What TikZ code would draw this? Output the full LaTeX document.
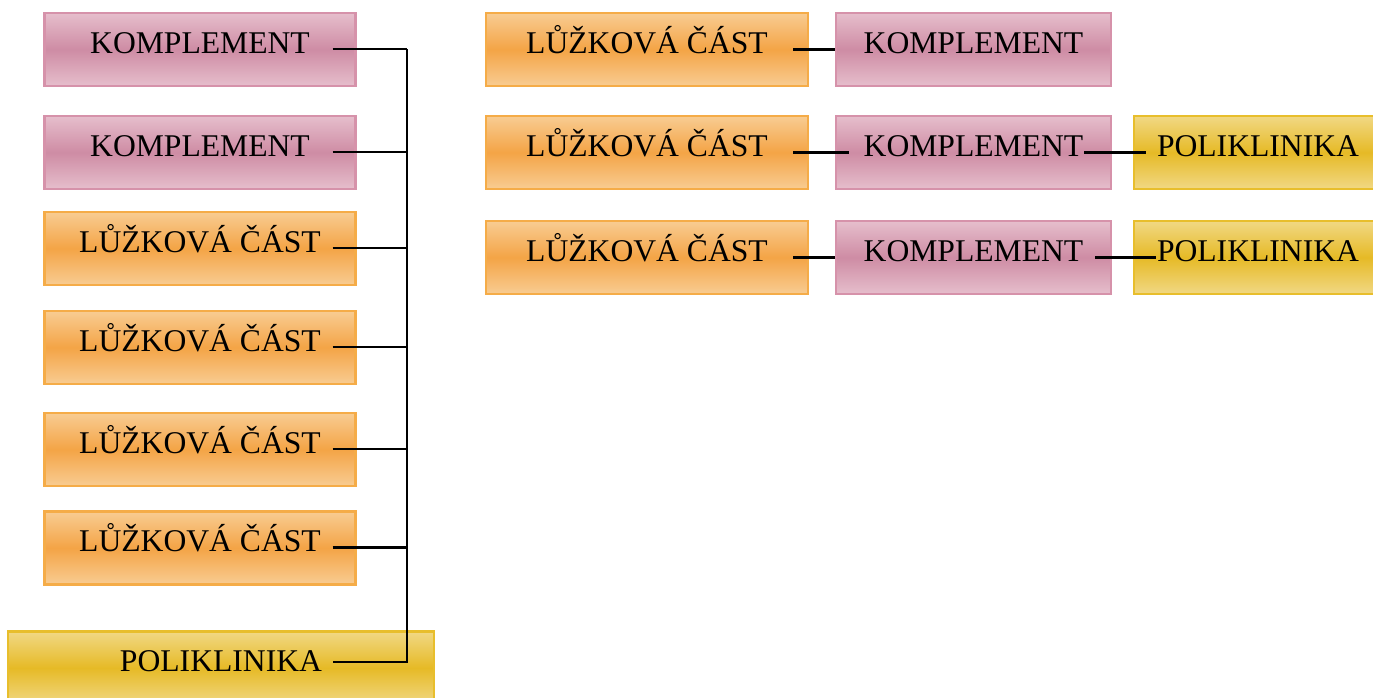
\documentclass[tikz,border=0pt]{standalone}
\usepackage{fontspec}
\setmainfont{Liberation Serif}
\definecolor{pinkedge}{RGB}{214,146,170}
\definecolor{pinklight}{RGB}{230,190,204}
\definecolor{pinkdark}{RGB}{206,140,164}
\definecolor{orangeedge}{RGB}{245,172,72}
\definecolor{orangelight}{RGB}{248,204,146}
\definecolor{orangedark}{RGB}{244,164,70}
\definecolor{yellowedge}{RGB}{232,190,44}
\definecolor{yellowlight}{RGB}{241,216,132}
\definecolor{yellowdark}{RGB}{230,186,38}
\tikzset{
        box/.style={rectangle, draw, line width=1.2pt, minimum height=1.46cm, inner sep=0pt,
          text height=0.66em, text depth=0.24em, font=\fontsize{18}{20}\selectfont},
        komplement/.style={box, draw=pinkedge, top color=pinklight, bottom color=pinklight, middle color=pinkdark},
        luzko/.style={box, draw=orangeedge, top color=orangelight, bottom color=orangelight, middle color=orangedark},
        poli/.style={box, draw=yellowedge, top color=yellowlight, bottom color=yellowlight, middle color=yellowdark},
        link/.style={draw=black, line width=1.3pt}
          }
\begin{document}
\begin{tikzpicture}[x=0.02cm, y=-0.02cm]
        \clip (0,0) rectangle (1373,697);
        % left column
        \node[komplement, minimum width=6.22cm] (k1) at (200,49.5) {KOMPLEMENT};
        \node[komplement, minimum width=6.22cm] (k2) at (200,152.5) {KOMPLEMENT};
        \node[luzko, minimum width=6.22cm] (l1) at (200,248.5) {LŮŽKOVÁ ČÁST};
        \node[luzko, minimum width=6.22cm] (l2) at (200,347.5) {LŮŽKOVÁ ČÁST};
        \node[luzko, minimum width=6.22cm] (l3) at (200,449.5) {LŮŽKOVÁ ČÁST};
        \node[luzko, minimum width=6.22cm] (l4) at (200,548) {LŮŽKOVÁ ČÁST};
        \node[poli, minimum width=8.52cm] (p0) at (221,668) {POLIKLINIKA};
        \coordinate (bus) at (407,0);
        \draw[link] ([xshift=-2.04cm,yshift=0.12cm]p0.east) -| ([yshift=0.01cm]k1.east -| bus);
        \foreach \n in {k1,k2,l1,l2,l3,l4}
          \draw[link] ([xshift=-0.48cm,yshift=0.01cm]\n.east) -- ([yshift=0.01cm]\n.east -| bus);
        % right rows
        \node[luzko, minimum width=6.44cm] (ra) at (647,49.5) {LŮŽKOVÁ ČÁST};
        \node[komplement, minimum width=5.5cm] (ka) at (973.5,49.5) {KOMPLEMENT};
        \node[luzko, minimum width=6.44cm] (rb) at (647,152.5) {LŮŽKOVÁ ČÁST};
        \node[komplement, minimum width=5.5cm] (kb) at (973.5,152.5) {KOMPLEMENT};
        \node[poli, minimum width=4.96cm] (pb) at (1258,152.5) {POLIKLINIKA};
        \node[luzko, minimum width=6.44cm] (rc) at (647,257.5) {LŮŽKOVÁ ČÁST};
        \node[komplement, minimum width=5.5cm] (kc) at (973.5,257.5) {KOMPLEMENT};
        \node[poli, minimum width=4.96cm] (pc) at (1258,257.5) {POLIKLINIKA};
        \draw[link] ([xshift=-0.32cm]ra.east) -- (ka.west);
        \draw[link] ([xshift=-0.32cm]rb.east) -- ([xshift=0.28cm]kb.west);
        \draw[link] ([xshift=-0.56cm]kb.east) -- ([xshift=0.26cm]pb.west);
        \draw[link] ([xshift=-0.32cm]rc.east) -- (kc.west);
        \draw[link] ([xshift=-0.34cm]kc.east) -- ([xshift=0.46cm]pc.west);
      \end{tikzpicture}
\end{document}
